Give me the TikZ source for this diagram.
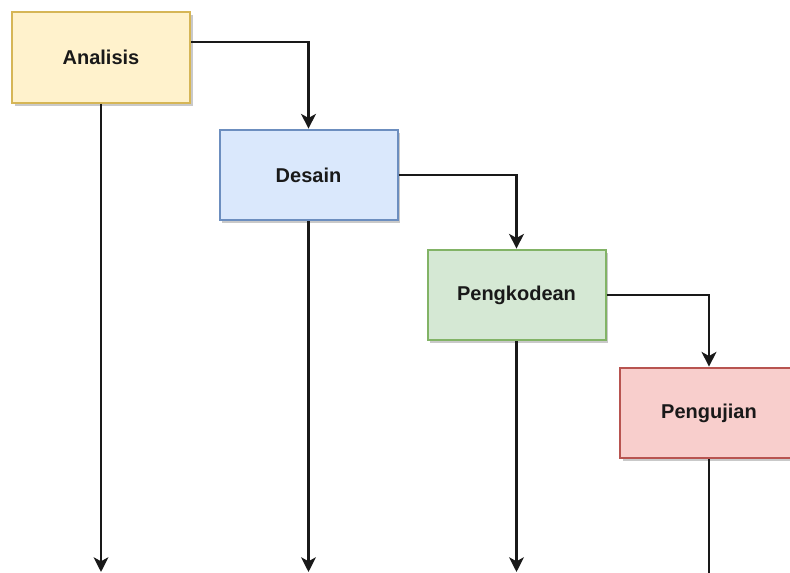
\documentclass[tikz,border=0pt]{standalone}
\usepackage{fontspec}
\setmainfont{Liberation Sans}
\usetikzlibrary{arrows.meta,positioning,shadows}
\definecolor{anaFill}{HTML}{FFF2CC}
\definecolor{anaLine}{HTML}{D6B656}
\definecolor{desFill}{HTML}{DAE8FC}
\definecolor{desLine}{HTML}{6C8EBF}
\definecolor{kodFill}{HTML}{D5E8D4}
\definecolor{kodLine}{HTML}{82B366}
\definecolor{ujiFill}{HTML}{F8CECC}
\definecolor{ujiLine}{HTML}{B85450}
\tikzset{
    phase/.style = {rectangle, line width=1.5pt, minimum width=133.5pt, minimum height=68pt,
                    align=center, font=\fontsize{15}{18}\selectfont\bfseries, text=black!90,
                    drop shadow={shadow xshift=2.2pt, shadow yshift=-2.2pt, opacity=0.35, fill=black!60}},
    anablock/.style = {phase, fill=anaFill, draw=anaLine},
    desblock/.style = {phase, fill=desFill, draw=desLine},
    kodblock/.style = {phase, fill=kodFill, draw=kodLine},
    ujiblock/.style = {phase, fill=ujiFill, draw=ujiLine},
    flow/.style = {-{Stealth[length=11pt, width=11pt, inset=3pt]}, line width=2pt, draw=black!90}
}
\begin{document}
\begin{tikzpicture}[x=0.75pt, y=-0.75pt]
    \clip (0,0) rectangle (790,573);
    \fill[white] (0,0) rectangle (790,573);
    % waterfall phases
    \node[anablock] (analisis)   at (101, 57.5)  {Analisis};
    \node[desblock] (desain)     at (308.5, 175) {Desain};
    \node[kodblock] (pengkodean) at (516.5, 295) {Pengkodean};
    \node[ujiblock] (pengujian)  at (709, 413)   {Pengujian};
    % free ends at the bottom
    \coordinate (outA) at (101, 572);
    \coordinate (outD) at (308.5, 572);
    \coordinate (outK) at (516.5, 572);
    \coordinate (outU) at (709, 600);
    % phase to phase
    \draw[flow] ([yshift=11.6pt]analisis.east) -| (desain.north);
    \draw[flow] (desain.east) -| (pengkodean.north);
    \draw[flow] (pengkodean.east) -| (pengujian.north);
    % outputs
    \draw[flow] (analisis.south) -- (outA);
    \draw[flow] (desain.south) -- (outD);
    \draw[flow] (pengkodean.south) -- (outK);
    \draw[flow] (pengujian.south) -- (outU);
\end{tikzpicture}
\end{document}
